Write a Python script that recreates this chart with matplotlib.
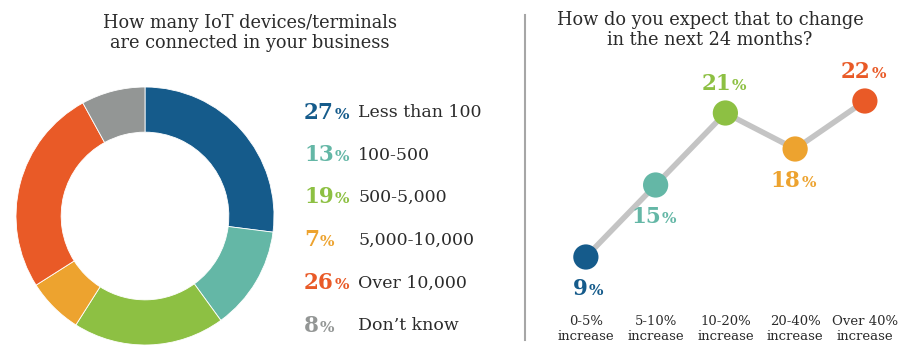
import matplotlib.pyplot as plt

# Left: donut - number of connected IoT devices
device_labels = ["Less than 100", "100-500", "500-5,000", "5,000-10,000", "Over 10,000", "Don\u2019t know"]
device_shares = [27, 13, 19, 7, 26, 8]
device_colors = ["#155b8b", "#64b7a6", "#8dc043", "#eda32f", "#e95a27", "#939695"]

# Right: expected change in the next 24 months
change_labels = ["0-5%\nincrease", "5-10%\nincrease", "10-20%\nincrease", "20-40%\nincrease", "Over 40%\nincrease"]
change_shares = [9, 15, 21, 18, 22]
change_colors = ["#155b8b", "#64b7a6", "#8dc043", "#eda32f", "#e95a27"]
label_above = [False, False, True, False, True]

W, H = 905, 347
serif = "DejaVu Serif"
txt_color = "#2b2b2b"

fig = plt.figure(figsize=(W / 100, H / 100), dpi=100)


def add_pct(ax, num_text, col):
    # small bold % sign placed right after a big number
    ax.annotate("%", xy=(1, 0), xycoords=num_text, xytext=(0.5, 1.5), textcoords="offset points",
                ha="left", va="bottom", fontsize=11, fontweight="bold",
                family=serif, color=col, annotation_clip=False)


# donut
ax1 = fig.add_axes([16 / W, 2 / H, 258 / W, 258 / H])
ax1.pie(device_shares, colors=device_colors, startangle=90, counterclock=False,
        radius=1, wedgeprops=dict(width=0.35, edgecolor="white", linewidth=0.6))
ax1.set_xlim(-1, 1)
ax1.set_ylim(-1, 1)
ax1.set_aspect("equal")
ax1.axis("off")

fig.text(250 / W, 1 - 33 / H, "How many IoT devices/terminals\nare connected in your business",
         ha="center", va="center", fontsize=12.8, family=serif, color=txt_color, linespacing=1.2)

# legend rows
row_y = [113, 155, 197, 240, 283, 326]
for lab, val, col, y in zip(device_labels, device_shares, device_colors, row_y):
    t = fig.text(304 / W, 1 - y / H, str(val), ha="left", va="center", fontsize=15.5,
                 fontweight="bold", family=serif, color=col)
    add_pct(ax1, t, col)
    fig.text(358 / W, 1 - y / H, lab, ha="left", va="center", fontsize=12.5,
             family=serif, color=txt_color)

# divider
fig.add_artist(plt.Line2D([525 / W, 525 / W], [1 - 15 / H, 1 - 340 / H], color="#a6a6a6", lw=1.5))

# line chart
ax2 = fig.add_axes([551 / W, (H - 305) / H, 348.75 / W, 240 / H])
xs = list(range(len(change_shares)))
ax2.plot(xs, change_shares, color="#c4c4c4", lw=4, zorder=1)
ax2.scatter(xs, change_shares, s=330, c=change_colors, zorder=2, linewidths=0)
ax2.set_xlim(-0.5, 4.5)
ax2.set_ylim(5, 25)
for x, v, col, up in zip(xs, change_shares, change_colors, label_above):
    dy = 2.45 if up else -2.65
    shift = 0.08 if v >= 10 else 0.03
    t = ax2.text(x + shift, v + dy, f"{v}", ha="right", va="center", fontsize=15.5,
                 fontweight="bold", family=serif, color=col)
    add_pct(ax2, t, col)
ax2.set_xticks(xs)
ax2.set_xticklabels(change_labels, fontsize=9.5, family=serif, color=txt_color, linespacing=1.25)
ax2.tick_params(axis="x", length=0, pad=7)
ax2.set_yticks([])
for s in ax2.spines.values():
    s.set_visible(False)

fig.text(710 / W, 1 - 30 / H, "How do you expect that to change\nin the next 24 months?",
         ha="center", va="center", fontsize=12.8, family=serif, color=txt_color, linespacing=1.2)

fig.savefig("out.png", dpi=100)
